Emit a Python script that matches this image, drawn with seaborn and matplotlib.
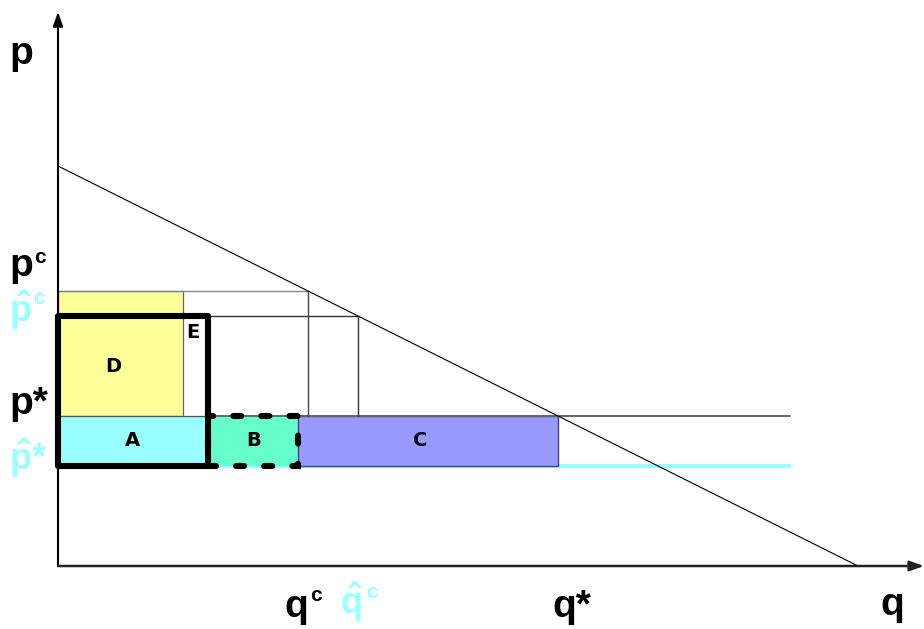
import matplotlib
matplotlib.use("Agg")
import matplotlib.pyplot as plt
from matplotlib.patches import Rectangle
import seaborn as sns

# ---- data (economic units) ----
demand_q = [0, 160]
demand_p = [80, 0]
prices = {"p_c": 55, "p_hat_c": 50, "p_star": 30, "p_hat_star": 20}
quantities = {"q_D": 25, "q_box": 30, "q_c": 50, "q_hat_c": 60, "q_B": 48,
              "q_star": 100, "q_end": 146.4}
area_labels = ["A", "B", "C", "D", "E"]
axis_max = [173.2, 110.8]

p_c, p_hat_c, p_star, p_hat_star = (prices[k] for k in ["p_c", "p_hat_c", "p_star", "p_hat_star"])
q_D, q_box, q_c, q_hat_c, q_B, q_star, q_end = (quantities[k] for k in
    ["q_D", "q_box", "q_c", "q_hat_c", "q_B", "q_star", "q_end"])

sns.set_theme(style="white")
plt.rcParams["font.family"] = ["Liberation Sans", "DejaVu Sans"]
plt.rcParams["mathtext.fontset"] = "custom"
plt.rcParams["mathtext.rm"] = "Liberation Sans:bold"
plt.rcParams["mathtext.it"] = "Liberation Sans:bold"
plt.rcParams["mathtext.bf"] = "Liberation Sans:bold"

W, H = 924, 629
fig = plt.figure(figsize=(W / 100, H / 100), dpi=100)
ax = fig.add_axes([0, 0, 1, 1])
ax.set_xlim(-11.6, 173.2)
ax.set_ylim(-12.6, 113.2)
ax.axis("off")

CYAN = "#99FFFF"
YELLOW = "#FFFF99"
GREEN = "#66FFCC"
PURPLE = "#9999FF"

# rectangles
ax.add_patch(Rectangle((0, p_star), q_D, p_c - p_star, facecolor=YELLOW,
                       edgecolor="#666666", lw=0.9, zorder=2))
ax.add_patch(Rectangle((0, p_hat_star), q_box, p_star - p_hat_star, facecolor=CYAN,
                       edgecolor="#555555", lw=0.9, zorder=2))
ax.add_patch(Rectangle((q_box, p_hat_star), q_B - q_box, p_star - p_hat_star,
                       facecolor=GREEN, edgecolor="none", zorder=2))
ax.add_patch(Rectangle((q_B, p_hat_star), q_star - q_B, p_star - p_hat_star,
                       facecolor=PURPLE, edgecolor="#444466", lw=1.0, zorder=2))

# horizontal reference lines
sns.lineplot(x=[q_box, q_end], y=[p_hat_star, p_hat_star], ax=ax, color=CYAN, lw=3,
             zorder=1.5, legend=False)
sns.lineplot(x=[q_box, q_end], y=[p_star, p_star], ax=ax, color="#666666", lw=1.4,
             zorder=3, legend=False)
sns.lineplot(x=[0, q_c], y=[p_c, p_c], ax=ax, color="#888888", lw=1.0, zorder=3, legend=False)
sns.lineplot(x=[q_c, q_c], y=[p_star, p_c], ax=ax, color="#444444", lw=1.0, zorder=3,
             legend=False, orient="y")
sns.lineplot(x=[q_box, q_hat_c], y=[p_hat_c, p_hat_c], ax=ax, color="#333333", lw=1.0,
             zorder=3, legend=False)
sns.lineplot(x=[q_hat_c, q_hat_c], y=[p_star, p_hat_c], ax=ax, color="#333333", lw=1.0,
             zorder=3, legend=False, orient="y")

# demand curve
sns.lineplot(x=demand_q, y=demand_p, ax=ax, color="black", lw=0.8, zorder=4, legend=False)

# thick outlined box (A + D + E) and dashed box B
ax.add_patch(Rectangle((0, p_hat_star), q_box, p_hat_c - p_hat_star, facecolor="none",
                       edgecolor="black", lw=4.4, joinstyle="round", zorder=6))
ax.add_patch(Rectangle((q_box, p_hat_star), q_B - q_box, p_star - p_hat_star,
                       facecolor="none", edgecolor="black", lw=4.4,
                       linestyle=(0, (1.3, 3.3)), capstyle="round", zorder=6))

# axes with arrows
ax.annotate("", xy=(0, axis_max[1]), xytext=(0, 0),
            arrowprops=dict(arrowstyle="-|>,head_length=0.7,head_width=0.25",
                            color="black", lw=1.5, shrinkA=0, shrinkB=0), zorder=7)
ax.annotate("", xy=(axis_max[0], 0), xytext=(0, 0),
            arrowprops=dict(arrowstyle="-|>,head_length=0.7,head_width=0.25",
                            color="#222222", lw=1.8, shrinkA=0, shrinkB=0), zorder=7)


def ftext(x, y, s, **kw):
    fig.text(x / W, 1 - y / H, s, **kw)


BIG = 28
HATSZ = 26
SUP = 15
# area letters
area_pos = [(132, 441), (254, 441), (420, 441), (113, 366), (193, 332)]
for lab, (x, y) in zip(area_labels, area_pos):
    ftext(x, y, lab, fontsize=14, fontweight="bold", ha="center", va="center",
          family=["DejaVu Sans"], color="black", zorder=8)

# price labels
ftext(21, 64, "p", fontsize=BIG, fontweight="bold", ha="center", va="baseline", color="black")
ftext(21, 276, "p", fontsize=BIG, fontweight="bold", ha="center", va="baseline", color="black")
ftext(34, 263, "c", fontsize=SUP, fontweight="bold", ha="left", va="baseline", color="black")
ftext(9, 322, r"$\hat{p}$", fontsize=HATSZ, ha="left", va="baseline", color=CYAN)
ftext(33, 304, "c", fontsize=SUP, fontweight="bold", ha="left", va="baseline", color=CYAN)
ftext(9, 414, "p*", fontsize=BIG, fontweight="bold", ha="left", va="baseline", color="black")
ftext(9, 470, r"$\hat{p}$*", fontsize=HATSZ, fontweight="bold", ha="left", va="baseline",
      color=CYAN)

# quantity labels
ftext(296, 617, "q", fontsize=BIG, fontweight="bold", ha="center", va="baseline", color="black")
ftext(310, 601, "c", fontsize=SUP, fontweight="bold", ha="left", va="baseline", color="black")
ftext(340, 614, r"$\hat{q}$", fontsize=HATSZ, ha="left", va="baseline", color=CYAN)
ftext(366, 598, "c", fontsize=SUP, fontweight="bold", ha="left", va="baseline", color=CYAN)
ftext(552, 617, "q*", fontsize=BIG, fontweight="bold", ha="left", va="baseline", color="black")
ftext(892, 615, "q", fontsize=BIG, fontweight="bold", ha="center", va="baseline", color="black")

fig.savefig("out.png", dpi=100)
